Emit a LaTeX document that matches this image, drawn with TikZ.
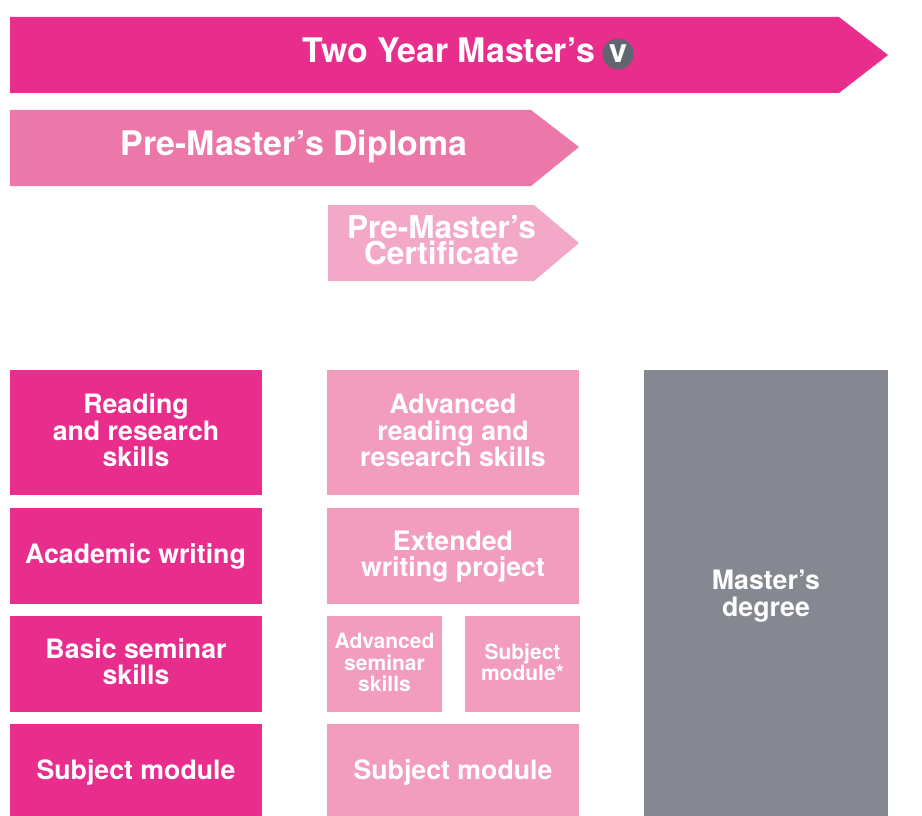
\documentclass[tikz,border=0pt]{standalone}
\usepackage{fontspec}
\setmainfont{TeX Gyre Heros}
\definecolor{hot}{HTML}{E92D8C}
\definecolor{mid}{HTML}{EC78A9}
\definecolor{soft}{HTML}{F4A8C8}
\definecolor{pale}{HTML}{F29CBE}
\definecolor{slate}{HTML}{858890}
\definecolor{badge}{HTML}{5F6670}
\newcommand{\fsz}[2]{\fontsize{#1}{#2}\selectfont\bfseries}
\tikzset{
  x=1pt,y=-1pt,
  label text/.style={text=white,align=center,inner sep=0pt,font=\fsz{26.7}{26.4}},
  small text/.style={label text,font=\fsz{21}{21.3}},
  arrow text/.style={label text,font=\fsz{33.9}{33}},
  cert text/.style={label text,font=\fsz{31.5}{26}}
}
\begin{document}
\begin{tikzpicture}
\useasboundingbox[fill=white] (0,0) rectangle (922,816);
% arrows
\fill[hot] (10,17) -- (839,17) -- (888,55) -- (839,93) -- (10,93) -- cycle;
\fill[mid] (10,110) -- (531,110) -- (579,147) -- (531,186) -- (10,186) -- cycle;
\fill[soft] (328,205) -- (534,205) -- (579,243) -- (534,281) -- (328,281) -- cycle;
\node[arrow text] (two) at (449,50.5) {Two Year Master’s};
\node[circle,fill=badge,minimum size=31pt,inner sep=0pt,text=white,font=\fsz{33}{33}] (v) at (618,54) {v};
\node[arrow text] (dip) at (294,147) {Pre-Master’s Diploma};
\node[cert text] (cert) at (441.5,240) {Pre-Master’s\\Certificate};
% left column
\fill[hot] (10,370) rectangle (262,495);
\fill[hot] (10,508) rectangle (262,604);
\fill[hot] (10,616) rectangle (262,712);
\fill[hot] (10,724) rectangle (262,816);
\node[label text] (l1) at (136,430.5) {Reading\\and research\\skills};
\node[label text] (l2) at (135.5,556) {Academic writing};
\node[label text] (l3) at (136,661.5) {Basic seminar\\skills};
\node[label text] (l4) at (136,772) {Subject module};
% middle column
\fill[pale] (327,370) rectangle (579,495);
\fill[pale] (327,508) rectangle (579,604);
\fill[pale] (327,616) rectangle (442,712);
\fill[pale] (465,616) rectangle (580,712);
\fill[pale] (327,724) rectangle (579,816);
\node[label text] (m1) at (453,430.5) {Advanced\\reading and\\research skills};
\node[label text] (m2) at (453,556.5) {Extended\\writing project};
\node[small text] (m3) at (384.5,662.5) {Advanced\\seminar\\skills};
\node[small text] (m4) at (522.5,662) {Subject\\module*};
\node[label text] (m5) at (453,772) {Subject module};
% right column
\fill[slate] (644,370) rectangle (888,816);
\node[label text] (r) at (766,596) {Master’s\\degree};
\end{tikzpicture}
\end{document}
